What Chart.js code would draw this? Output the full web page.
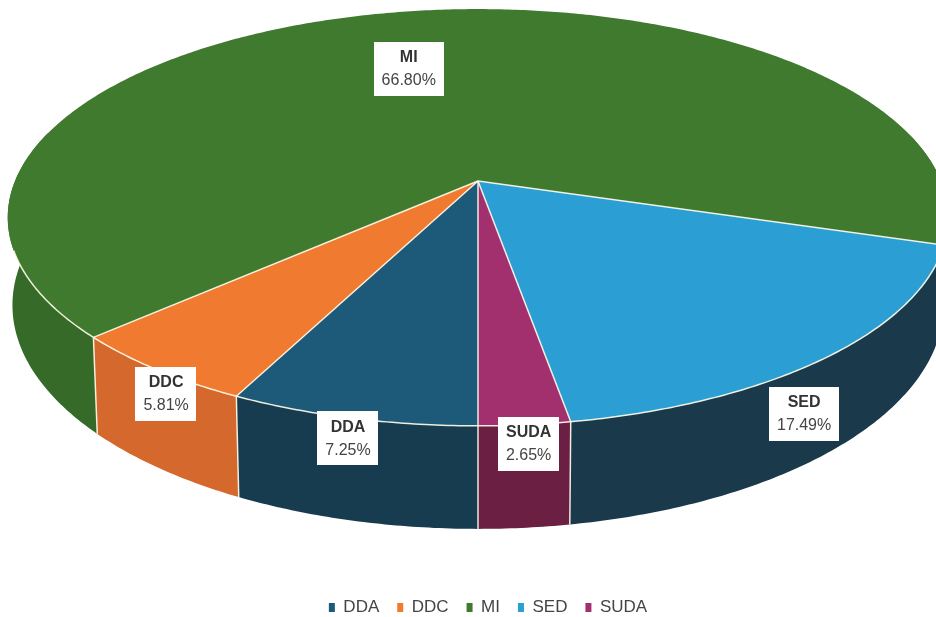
<!DOCTYPE html>
<html>
<head>
<meta charset="utf-8">
<script src="https://cdn.jsdelivr.net/npm/chart.js@4/dist/chart.umd.min.js"></script>
<style>
  html, body { margin: 0; padding: 0; background: #ffffff; }
  canvas { display: block; }
</style>
</head>
<body>
<canvas id="chart" width="936" height="617"></canvas>
<script>
// Share of each category (%)
const categories = ['DDA', 'DDC', 'MI', 'SED', 'SUDA'];
const shares = [7.25, 5.81, 66.80, 17.49, 2.65];

// Top face and side wall colours
const topColors = ['#1d5a79', '#f07b30', '#407a2f', '#2b9fd3', '#a2306e'];
const sideColors = ['#183c4f', '#d5682c', '#356a28', '#1a3a4c', '#6a1f43'];

// Label offsets from the rim point at each slice's mid angle
const labelOffsets = [[-4, 20], [9, 24], [18, 56], [-24, 57], [4, 19]];

// Perspective disc geometry
const view = {
  cx: 478, cy: 181,   // apex of the slices
  rx: 463, ry: 202,   // radii before perspective
  k: 0.175,           // perspective strength (front is larger)
  depth: 85,          // wall height
  shrink: 0.99        // bottom face is slightly farther away
};

function project(angle, f, bottom) {
  const u = f * Math.cos(angle);
  const v = f * Math.sin(angle);
  const d = 1 - view.k * v;
  let x = view.cx + view.rx * u / d;
  let y = view.cy + view.ry * v / d;
  if (bottom) {
    x = view.cx + (x - view.cx) * view.shrink;
    y += view.depth / d;
  }
  return { x, y };
}

function samples(a0, a1) {
  const n = Math.max(2, Math.ceil((a1 - a0) / 0.01));
  const out = [];
  for (let i = 0; i <= n; i++) out.push(a0 + (a1 - a0) * i / n);
  return out;
}

const edgeColor = 'rgba(255, 252, 235, 0.9)';

// Draws the pie as a tilted 3D disc using the arc angles laid out by Chart.js
const pie3d = {
  id: 'pie3d',
  beforeDatasetsDraw(chart) {
    const ctx = chart.ctx;
    const arcs = chart.getDatasetMeta(0).data;
    ctx.save();

    // Side walls, only the part that faces the viewer
    arcs.forEach((arc, i) => {
      const angles = samples(arc.startAngle, arc.endAngle);
      let run = [];
      const runs = [];
      angles.forEach(a => {
        if (Math.sin(a) > -0.25) run.push(a);
        else if (run.length) { runs.push(run); run = []; }
      });
      if (run.length) runs.push(run);
      runs.forEach(r => {
        if (r.length < 2) return;
        ctx.beginPath();
        r.forEach((a, j) => {
          const p = project(a, 1, false);
          j ? ctx.lineTo(p.x, p.y) : ctx.moveTo(p.x, p.y);
        });
        for (let j = r.length - 1; j >= 0; j--) {
          const p = project(r[j], 1, true);
          ctx.lineTo(p.x, p.y);
        }
        ctx.closePath();
        ctx.fillStyle = sideColors[i];
        ctx.fill();
      });
    });

    // Vertical seams between walls on the front
    ctx.strokeStyle = edgeColor;
    ctx.lineWidth = 1.5;
    arcs.forEach(arc => {
      const a = arc.startAngle;
      if (Math.sin(a) <= 0) return;
      const p = project(a, 1, false);
      const q = project(a, 1, true);
      ctx.beginPath();
      ctx.moveTo(p.x, p.y);
      ctx.lineTo(q.x, q.y);
      ctx.stroke();
    });

    // Top faces
    arcs.forEach((arc, i) => {
      ctx.beginPath();
      ctx.moveTo(view.cx, view.cy);
      samples(arc.startAngle, arc.endAngle).forEach(a => {
        const p = project(a, 1, false);
        ctx.lineTo(p.x, p.y);
      });
      ctx.closePath();
      ctx.fillStyle = topColors[i];
      ctx.fill();
    });

    // Slice borders and the front rim
    ctx.strokeStyle = edgeColor;
    ctx.lineWidth = 1.5;
    arcs.forEach(arc => {
      const p = project(arc.startAngle, 1, false);
      ctx.beginPath();
      ctx.moveTo(view.cx, view.cy);
      ctx.lineTo(p.x, p.y);
      ctx.stroke();
    });
    ctx.beginPath();
    samples(0.05, Math.PI - 0.33).forEach((a, j) => {
      const p = project(a, 1, false);
      j ? ctx.lineTo(p.x, p.y) : ctx.moveTo(p.x, p.y);
    });
    ctx.stroke();

    // Value labels
    const values = chart.data.datasets[0].data;
    ctx.textAlign = 'center';
    ctx.textBaseline = 'middle';
    arcs.forEach((arc, i) => {
      const mid = (arc.startAngle + arc.endAngle) / 2;
      const rim = project(mid, 1, false);
      const x = rim.x + labelOffsets[i][0];
      const y = rim.y + labelOffsets[i][1];
      const name = chart.data.labels[i];
      const pct = values[i].toFixed(2) + '%';
      ctx.font = 'bold 16px "Liberation Sans", Arial, sans-serif';
      const w1 = ctx.measureText(name).width;
      ctx.font = '16px "Liberation Sans", Arial, sans-serif';
      const w2 = ctx.measureText(pct).width;
      const w = Math.max(w1, w2) + 16;
      const h = 54;
      ctx.fillStyle = '#ffffff';
      ctx.fillRect(Math.round(x - w / 2), Math.round(y - h / 2), Math.round(w), h);
      ctx.fillStyle = '#333333';
      ctx.font = 'bold 16px "Liberation Sans", Arial, sans-serif';
      ctx.fillText(name, x, y - 11);
      ctx.fillStyle = '#444444';
      ctx.font = '16px "Liberation Sans", Arial, sans-serif';
      ctx.fillText(pct, x, y + 12);
    });

    ctx.restore();
    return false;
  }
};

Chart.defaults.font.family = '"Liberation Sans", Arial, sans-serif';

new Chart(document.getElementById('chart').getContext('2d'), {
  type: 'pie',
  data: {
    labels: categories,
    datasets: [{
      data: shares,
      backgroundColor: topColors,
      borderWidth: 0
    }]
  },
  options: {
    responsive: false,
    animation: false,
    rotation: 180,
    layout: { padding: { left: 40, bottom: -9 } },
    plugins: {
      tooltip: { enabled: false },
      legend: {
        position: 'bottom',
        labels: {
          boxWidth: 6,
          boxHeight: 9,
          padding: 18,
          color: '#444444',
          font: { size: 17 }
        }
      }
    }
  },
  plugins: [pie3d]
});
</script>
</body>
</html>
